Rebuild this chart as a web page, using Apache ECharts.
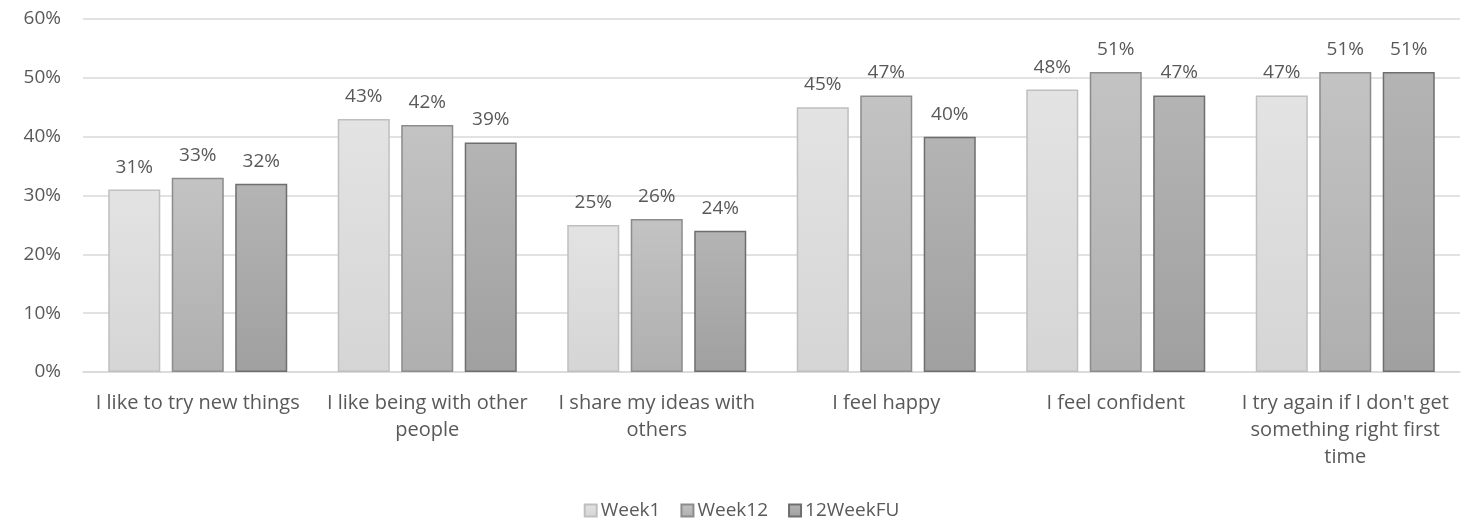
<!DOCTYPE html>
<html><head><meta charset="utf-8">
<script src="https://cdn.jsdelivr.net/npm/echarts@6/dist/echarts.min.js"></script>
<style>html,body{margin:0;padding:0;background:#fff}#c{width:1483px;height:525px}</style>
</head><body><div id="c"></div>
<script>
const categories = [
  "I like to try new things",
  "I like being with other\npeople",
  "I share my ideas with\nothers",
  "I feel happy",
  "I feel confident",
  "I try again if I don't get\nsomething right first\ntime"
];
const seriesNames = ["Week1", "Week12", "12WeekFU"];
const week1 = [31, 43, 25, 45, 48, 47];
const week12 = [33, 42, 26, 47, 51, 51];
const weekFU = [32, 39, 24, 40, 47, 51];
const yTicks = [0, 10, 20, 30, 40, 50, 60];

const FONT = "Open Sans";
const FS = 19;
const styles = [
  {top: "#e3e3e3", bottom: "#d5d5d5", border: "#bfbfbf"},
  {top: "#c3c3c3", bottom: "#afafaf", border: "#8c8c8c"},
  {top: "#b4b4b4", bottom: "#a0a0a0", border: "#6e6e6e"}
];
const data = [week1, week12, weekFU];

const chart = echarts.init(document.getElementById('c'));
chart.setOption({
  animation: false,
  textStyle: {fontFamily: FONT},
  grid: {left: 83, right: 23, top: 19, bottom: 153},
  legend: {
    bottom: 0, left: 'center',
    itemWidth: 12, itemHeight: 12, itemGap: 20,
    icon: 'rect',
    textStyle: {color: '#595959', fontSize: FS, fontFamily: FONT, padding: [0, 0, 0, -1]},
    data: seriesNames
  },
  xAxis: {
    type: 'category', data: categories,
    axisLine: {show: true, lineStyle: {color: '#d9d9d9', width: 1.5}},
    axisTick: {show: false},
    axisLabel: {interval: 0, color: '#595959', fontSize: 20, lineHeight: 27, margin: 18, fontFamily: FONT, align: 'center'}
  },
  yAxis: {
    type: 'value', min: yTicks[0], max: yTicks[yTicks.length - 1], interval: 10,
    axisLine: {show: false}, axisTick: {show: false},
    splitLine: {lineStyle: {color: '#d9d9d9', width: 1.5}},
    axisLabel: {color: '#595959', fontSize: FS, margin: 22, fontFamily: FONT, formatter: v => v + '%'}
  },
  series: seriesNames.map((n, i) => ({
    name: n, type: 'bar', data: data[i],
    barCategoryGap: '22%', barGap: '22%',
    itemStyle: {
      color: {type: 'linear', x: 0, y: 0, x2: 0, y2: 1, colorStops: [
        {offset: 0, color: styles[i].top}, {offset: 1, color: styles[i].bottom}]},
      borderColor: styles[i].border, borderWidth: 1.5
    },
    label: {show: true, position: 'top', distance: 13, color: '#595959', fontSize: FS, fontFamily: FONT, formatter: p => p.value + '%'}
  }))
});
</script></body></html>
